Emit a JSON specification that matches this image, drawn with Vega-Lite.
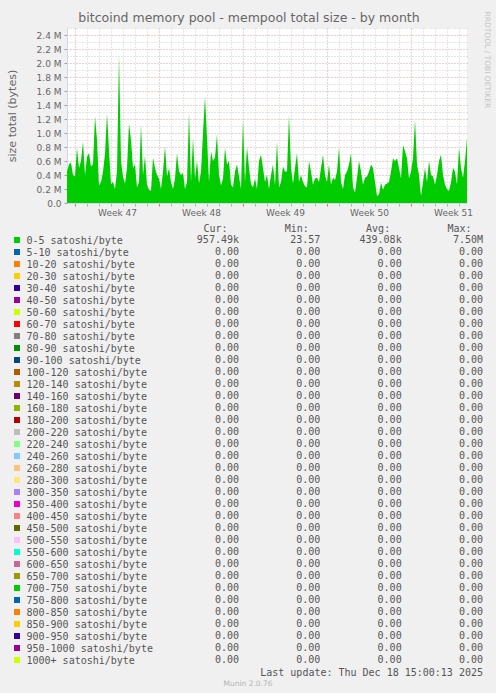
{
  "$schema": "https://vega.github.io/schema/vega-lite/v6.json",
  "background": "#f0f0f0",
  "padding": {"left": 5, "top": 11, "right": 5, "bottom": 5},
  "title": {"text": "RRDTOOL / TOBI OETIKER", "orient": "right", "anchor": "start", "font": "DejaVu Sans", "fontSize": 7.5, "fontWeight": "normal", "color": "#c4c4c4", "offset": 0},
  "datasets": {
    "mempool": [
      {"t":"2025-11-15T08:00Z","v":450000},{"t":"2025-11-15T12:00Z","v":550000},{"t":"2025-11-15T16:00Z","v":580000},{"t":"2025-11-15T20:00Z","v":400000},
      {"t":"2025-11-16T00:00Z","v":380000},{"t":"2025-11-16T04:00Z","v":790000},{"t":"2025-11-16T08:00Z","v":500000},{"t":"2025-11-16T12:00Z","v":600000},{"t":"2025-11-16T16:00Z","v":880000},{"t":"2025-11-16T20:00Z","v":400000},
      {"t":"2025-11-17T00:00Z","v":660000},{"t":"2025-11-17T04:00Z","v":710000},{"t":"2025-11-17T08:00Z","v":520000},{"t":"2025-11-17T12:00Z","v":550000},{"t":"2025-11-17T16:00Z","v":1240000},{"t":"2025-11-17T20:00Z","v":900000},
      {"t":"2025-11-18T00:00Z","v":250000},{"t":"2025-11-18T04:00Z","v":300000},{"t":"2025-11-18T08:00Z","v":450000},{"t":"2025-11-18T12:00Z","v":700000},{"t":"2025-11-18T16:00Z","v":1280000},{"t":"2025-11-18T20:00Z","v":750000},
      {"t":"2025-11-19T00:00Z","v":270000},{"t":"2025-11-19T04:00Z","v":300000},{"t":"2025-11-19T08:00Z","v":200000},{"t":"2025-11-19T12:00Z","v":450000},{"t":"2025-11-19T16:00Z","v":2120000},{"t":"2025-11-19T20:00Z","v":600000},
      {"t":"2025-11-20T00:00Z","v":380000},{"t":"2025-11-20T04:00Z","v":280000},{"t":"2025-11-20T08:00Z","v":500000},{"t":"2025-11-20T12:00Z","v":1140000},{"t":"2025-11-20T16:00Z","v":900000},{"t":"2025-11-20T20:00Z","v":500000},
      {"t":"2025-11-21T00:00Z","v":550000},{"t":"2025-11-21T04:00Z","v":220000},{"t":"2025-11-21T08:00Z","v":300000},{"t":"2025-11-21T12:00Z","v":1120000},{"t":"2025-11-21T16:00Z","v":400000},{"t":"2025-11-21T20:00Z","v":670000},
      {"t":"2025-11-22T00:00Z","v":260000},{"t":"2025-11-22T04:00Z","v":190000},{"t":"2025-11-22T08:00Z","v":170000},{"t":"2025-11-22T12:00Z","v":650000},{"t":"2025-11-22T16:00Z","v":500000},{"t":"2025-11-22T20:00Z","v":400000},
      {"t":"2025-11-23T00:00Z","v":350000},{"t":"2025-11-23T04:00Z","v":200000},{"t":"2025-11-23T08:00Z","v":450000},{"t":"2025-11-23T12:00Z","v":810000},{"t":"2025-11-23T16:00Z","v":380000},{"t":"2025-11-23T20:00Z","v":500000},
      {"t":"2025-11-24T00:00Z","v":300000},{"t":"2025-11-24T04:00Z","v":200000},{"t":"2025-11-24T08:00Z","v":350000},{"t":"2025-11-24T12:00Z","v":710000},{"t":"2025-11-24T16:00Z","v":450000},{"t":"2025-11-24T20:00Z","v":400000},
      {"t":"2025-11-25T00:00Z","v":430000},{"t":"2025-11-25T04:00Z","v":200000},{"t":"2025-11-25T08:00Z","v":300000},{"t":"2025-11-25T12:00Z","v":1300000},{"t":"2025-11-25T16:00Z","v":300000},{"t":"2025-11-25T20:00Z","v":930000},
      {"t":"2025-11-26T00:00Z","v":350000},{"t":"2025-11-26T04:00Z","v":600000},{"t":"2025-11-26T08:00Z","v":280000},{"t":"2025-11-26T12:00Z","v":450000},{"t":"2025-11-26T16:00Z","v":1000000},{"t":"2025-11-26T20:00Z","v":1520000},
      {"t":"2025-11-27T00:00Z","v":930000},{"t":"2025-11-27T04:00Z","v":300000},{"t":"2025-11-27T08:00Z","v":740000},{"t":"2025-11-27T12:00Z","v":600000},{"t":"2025-11-27T16:00Z","v":650000},{"t":"2025-11-27T20:00Z","v":980000},
      {"t":"2025-11-28T00:00Z","v":400000},{"t":"2025-11-28T04:00Z","v":250000},{"t":"2025-11-28T08:00Z","v":350000},{"t":"2025-11-28T12:00Z","v":790000},{"t":"2025-11-28T16:00Z","v":550000},{"t":"2025-11-28T20:00Z","v":600000},
      {"t":"2025-11-29T00:00Z","v":260000},{"t":"2025-11-29T04:00Z","v":220000},{"t":"2025-11-29T08:00Z","v":450000},{"t":"2025-11-29T12:00Z","v":550000},{"t":"2025-11-29T16:00Z","v":380000},{"t":"2025-11-29T20:00Z","v":200000},
      {"t":"2025-11-30T00:00Z","v":1190000},{"t":"2025-11-30T04:00Z","v":300000},{"t":"2025-11-30T08:00Z","v":800000},{"t":"2025-11-30T12:00Z","v":500000},{"t":"2025-11-30T16:00Z","v":270000},{"t":"2025-11-30T20:00Z","v":220000},
      {"t":"2025-12-01T00:00Z","v":350000},{"t":"2025-12-01T04:00Z","v":200000},{"t":"2025-12-01T08:00Z","v":600000},{"t":"2025-12-01T12:00Z","v":690000},{"t":"2025-12-01T16:00Z","v":500000},{"t":"2025-12-01T20:00Z","v":300000},
      {"t":"2025-12-02T00:00Z","v":400000},{"t":"2025-12-02T04:00Z","v":200000},{"t":"2025-12-02T08:00Z","v":400000},{"t":"2025-12-02T12:00Z","v":550000},{"t":"2025-12-02T16:00Z","v":250000},{"t":"2025-12-02T20:00Z","v":880000},
      {"t":"2025-12-03T00:00Z","v":220000},{"t":"2025-12-03T04:00Z","v":300000},{"t":"2025-12-03T08:00Z","v":520000},{"t":"2025-12-03T12:00Z","v":450000},{"t":"2025-12-03T16:00Z","v":450000},{"t":"2025-12-03T20:00Z","v":1260000},
      {"t":"2025-12-04T00:00Z","v":500000},{"t":"2025-12-04T04:00Z","v":280000},{"t":"2025-12-04T08:00Z","v":500000},{"t":"2025-12-04T12:00Z","v":710000},{"t":"2025-12-04T16:00Z","v":300000},{"t":"2025-12-04T20:00Z","v":400000},
      {"t":"2025-12-05T00:00Z","v":300000},{"t":"2025-12-05T04:00Z","v":240000},{"t":"2025-12-05T08:00Z","v":220000},{"t":"2025-12-05T12:00Z","v":600000},{"t":"2025-12-05T16:00Z","v":450000},{"t":"2025-12-05T20:00Z","v":260000},
      {"t":"2025-12-06T00:00Z","v":350000},{"t":"2025-12-06T04:00Z","v":360000},{"t":"2025-12-06T08:00Z","v":300000},{"t":"2025-12-06T12:00Z","v":500000},{"t":"2025-12-06T16:00Z","v":690000},{"t":"2025-12-06T20:00Z","v":400000},
      {"t":"2025-12-07T00:00Z","v":300000},{"t":"2025-12-07T04:00Z","v":550000},{"t":"2025-12-07T08:00Z","v":260000},{"t":"2025-12-07T12:00Z","v":360000},{"t":"2025-12-07T16:00Z","v":330000},{"t":"2025-12-07T20:00Z","v":450000},
      {"t":"2025-12-08T00:00Z","v":790000},{"t":"2025-12-08T04:00Z","v":300000},{"t":"2025-12-08T08:00Z","v":200000},{"t":"2025-12-08T12:00Z","v":400000},{"t":"2025-12-08T16:00Z","v":450000},{"t":"2025-12-08T20:00Z","v":550000},
      {"t":"2025-12-09T00:00Z","v":710000},{"t":"2025-12-09T04:00Z","v":220000},{"t":"2025-12-09T08:00Z","v":150000},{"t":"2025-12-09T12:00Z","v":360000},{"t":"2025-12-09T16:00Z","v":600000},{"t":"2025-12-09T20:00Z","v":450000},
      {"t":"2025-12-10T00:00Z","v":260000},{"t":"2025-12-10T04:00Z","v":360000},{"t":"2025-12-10T08:00Z","v":380000},{"t":"2025-12-10T12:00Z","v":450000},{"t":"2025-12-10T16:00Z","v":550000},{"t":"2025-12-10T20:00Z","v":500000},
      {"t":"2025-12-11T00:00Z","v":300000},{"t":"2025-12-11T04:00Z","v":100000},{"t":"2025-12-11T08:00Z","v":120000},{"t":"2025-12-11T12:00Z","v":290000},{"t":"2025-12-11T16:00Z","v":190000},{"t":"2025-12-11T20:00Z","v":260000},
      {"t":"2025-12-12T00:00Z","v":280000},{"t":"2025-12-12T04:00Z","v":300000},{"t":"2025-12-12T08:00Z","v":450000},{"t":"2025-12-12T12:00Z","v":640000},{"t":"2025-12-12T16:00Z","v":600000},{"t":"2025-12-12T20:00Z","v":640000},
      {"t":"2025-12-13T00:00Z","v":500000},{"t":"2025-12-13T04:00Z","v":350000},{"t":"2025-12-13T08:00Z","v":830000},{"t":"2025-12-13T12:00Z","v":740000},{"t":"2025-12-13T16:00Z","v":640000},{"t":"2025-12-13T20:00Z","v":350000},
      {"t":"2025-12-14T00:00Z","v":450000},{"t":"2025-12-14T04:00Z","v":640000},{"t":"2025-12-14T08:00Z","v":1190000},{"t":"2025-12-14T12:00Z","v":550000},{"t":"2025-12-14T16:00Z","v":400000},{"t":"2025-12-14T20:00Z","v":100000},
      {"t":"2025-12-15T00:00Z","v":300000},{"t":"2025-12-15T04:00Z","v":500000},{"t":"2025-12-15T08:00Z","v":300000},{"t":"2025-12-15T12:00Z","v":600000},{"t":"2025-12-15T16:00Z","v":400000},{"t":"2025-12-15T20:00Z","v":380000},
      {"t":"2025-12-16T00:00Z","v":260000},{"t":"2025-12-16T04:00Z","v":400000},{"t":"2025-12-16T08:00Z","v":600000},{"t":"2025-12-16T12:00Z","v":690000},{"t":"2025-12-16T16:00Z","v":400000},{"t":"2025-12-16T20:00Z","v":260000},
      {"t":"2025-12-17T00:00Z","v":200000},{"t":"2025-12-17T04:00Z","v":170000},{"t":"2025-12-17T08:00Z","v":300000},{"t":"2025-12-17T12:00Z","v":500000},{"t":"2025-12-17T16:00Z","v":450000},{"t":"2025-12-17T20:00Z","v":260000},
      {"t":"2025-12-18T00:00Z","v":790000},{"t":"2025-12-18T04:00Z","v":500000},{"t":"2025-12-18T08:00Z","v":360000},{"t":"2025-12-18T12:00Z","v":600000},{"t":"2025-12-18T16:00Z","v":930000}
    ],
    "legend": [
      {"name":"0-5 satoshi/byte","Cur":"957.49k","Min":"23.57\u00a0","Avg":"439.08k","Max":"7.50M"},
      {"name":"5-10 satoshi/byte","Cur":"0.00\u00a0","Min":"0.00\u00a0","Avg":"0.00\u00a0","Max":"0.00\u00a0"},
      {"name":"10-20 satoshi/byte","Cur":"0.00\u00a0","Min":"0.00\u00a0","Avg":"0.00\u00a0","Max":"0.00\u00a0"},
      {"name":"20-30 satoshi/byte","Cur":"0.00\u00a0","Min":"0.00\u00a0","Avg":"0.00\u00a0","Max":"0.00\u00a0"},
      {"name":"30-40 satoshi/byte","Cur":"0.00\u00a0","Min":"0.00\u00a0","Avg":"0.00\u00a0","Max":"0.00\u00a0"},
      {"name":"40-50 satoshi/byte","Cur":"0.00\u00a0","Min":"0.00\u00a0","Avg":"0.00\u00a0","Max":"0.00\u00a0"},
      {"name":"50-60 satoshi/byte","Cur":"0.00\u00a0","Min":"0.00\u00a0","Avg":"0.00\u00a0","Max":"0.00\u00a0"},
      {"name":"60-70 satoshi/byte","Cur":"0.00\u00a0","Min":"0.00\u00a0","Avg":"0.00\u00a0","Max":"0.00\u00a0"},
      {"name":"70-80 satoshi/byte","Cur":"0.00\u00a0","Min":"0.00\u00a0","Avg":"0.00\u00a0","Max":"0.00\u00a0"},
      {"name":"80-90 satoshi/byte","Cur":"0.00\u00a0","Min":"0.00\u00a0","Avg":"0.00\u00a0","Max":"0.00\u00a0"},
      {"name":"90-100 satoshi/byte","Cur":"0.00\u00a0","Min":"0.00\u00a0","Avg":"0.00\u00a0","Max":"0.00\u00a0"},
      {"name":"100-120 satoshi/byte","Cur":"0.00\u00a0","Min":"0.00\u00a0","Avg":"0.00\u00a0","Max":"0.00\u00a0"},
      {"name":"120-140 satoshi/byte","Cur":"0.00\u00a0","Min":"0.00\u00a0","Avg":"0.00\u00a0","Max":"0.00\u00a0"},
      {"name":"140-160 satoshi/byte","Cur":"0.00\u00a0","Min":"0.00\u00a0","Avg":"0.00\u00a0","Max":"0.00\u00a0"},
      {"name":"160-180 satoshi/byte","Cur":"0.00\u00a0","Min":"0.00\u00a0","Avg":"0.00\u00a0","Max":"0.00\u00a0"},
      {"name":"180-200 satoshi/byte","Cur":"0.00\u00a0","Min":"0.00\u00a0","Avg":"0.00\u00a0","Max":"0.00\u00a0"},
      {"name":"200-220 satoshi/byte","Cur":"0.00\u00a0","Min":"0.00\u00a0","Avg":"0.00\u00a0","Max":"0.00\u00a0"},
      {"name":"220-240 satoshi/byte","Cur":"0.00\u00a0","Min":"0.00\u00a0","Avg":"0.00\u00a0","Max":"0.00\u00a0"},
      {"name":"240-260 satoshi/byte","Cur":"0.00\u00a0","Min":"0.00\u00a0","Avg":"0.00\u00a0","Max":"0.00\u00a0"},
      {"name":"260-280 satoshi/byte","Cur":"0.00\u00a0","Min":"0.00\u00a0","Avg":"0.00\u00a0","Max":"0.00\u00a0"},
      {"name":"280-300 satoshi/byte","Cur":"0.00\u00a0","Min":"0.00\u00a0","Avg":"0.00\u00a0","Max":"0.00\u00a0"},
      {"name":"300-350 satoshi/byte","Cur":"0.00\u00a0","Min":"0.00\u00a0","Avg":"0.00\u00a0","Max":"0.00\u00a0"},
      {"name":"350-400 satoshi/byte","Cur":"0.00\u00a0","Min":"0.00\u00a0","Avg":"0.00\u00a0","Max":"0.00\u00a0"},
      {"name":"400-450 satoshi/byte","Cur":"0.00\u00a0","Min":"0.00\u00a0","Avg":"0.00\u00a0","Max":"0.00\u00a0"},
      {"name":"450-500 satoshi/byte","Cur":"0.00\u00a0","Min":"0.00\u00a0","Avg":"0.00\u00a0","Max":"0.00\u00a0"},
      {"name":"500-550 satoshi/byte","Cur":"0.00\u00a0","Min":"0.00\u00a0","Avg":"0.00\u00a0","Max":"0.00\u00a0"},
      {"name":"550-600 satoshi/byte","Cur":"0.00\u00a0","Min":"0.00\u00a0","Avg":"0.00\u00a0","Max":"0.00\u00a0"},
      {"name":"600-650 satoshi/byte","Cur":"0.00\u00a0","Min":"0.00\u00a0","Avg":"0.00\u00a0","Max":"0.00\u00a0"},
      {"name":"650-700 satoshi/byte","Cur":"0.00\u00a0","Min":"0.00\u00a0","Avg":"0.00\u00a0","Max":"0.00\u00a0"},
      {"name":"700-750 satoshi/byte","Cur":"0.00\u00a0","Min":"0.00\u00a0","Avg":"0.00\u00a0","Max":"0.00\u00a0"},
      {"name":"750-800 satoshi/byte","Cur":"0.00\u00a0","Min":"0.00\u00a0","Avg":"0.00\u00a0","Max":"0.00\u00a0"},
      {"name":"800-850 satoshi/byte","Cur":"0.00\u00a0","Min":"0.00\u00a0","Avg":"0.00\u00a0","Max":"0.00\u00a0"},
      {"name":"850-900 satoshi/byte","Cur":"0.00\u00a0","Min":"0.00\u00a0","Avg":"0.00\u00a0","Max":"0.00\u00a0"},
      {"name":"900-950 satoshi/byte","Cur":"0.00\u00a0","Min":"0.00\u00a0","Avg":"0.00\u00a0","Max":"0.00\u00a0"},
      {"name":"950-1000 satoshi/byte","Cur":"0.00\u00a0","Min":"0.00\u00a0","Avg":"0.00\u00a0","Max":"0.00\u00a0"},
      {"name":"1000+ satoshi/byte","Cur":"0.00\u00a0","Min":"0.00\u00a0","Avg":"0.00\u00a0","Max":"0.00\u00a0"}
    ]
  },
  "spacing": 6,
  "vconcat": [
    {
      "spacing": 0,
      "hconcat": [
        {
          "width": 1,
          "height": 175,
          "view": {"stroke": null},
          "data": {"values": []},
          "mark": {"type": "point", "opacity": 0}
        },
        {
          "width": 400,
          "height": 175,
          "view": {"fill": "#ffffff", "stroke": null},
          "title": {"text": "bitcoind memory pool - mempool total size - by month", "frame": "group", "anchor": "middle", "dx": -18, "offset": 0, "font": "DejaVu Sans", "fontSize": 12.5, "fontWeight": "normal", "color": "#666666"},
          "data": {"name": "mempool"},
          "mark": {"type": "area", "color": "#00cc00", "opacity": 1, "clip": true},
          "encoding": {
            "x": {
              "field": "t",
              "type": "temporal",
              "scale": {"type": "utc", "nice": false, "domain": [{"year": 2025, "month": 11, "date": 15, "hours": 8, "utc": true}, {"year": 2025, "month": 12, "date": 18, "hours": 16, "utc": true}]},
              "axis": {
                "title": null,
                "values": [1763251200000, 1763337600000, 1763424000000, 1763510400000, 1763553600000, 1763596800000, 1763683200000, 1763769600000, 1763856000000, 1763942400000, 1764028800000, 1764115200000, 1764158400000, 1764201600000, 1764288000000, 1764374400000, 1764460800000, 1764547200000, 1764633600000, 1764720000000, 1764763200000, 1764806400000, 1764892800000, 1764979200000, 1765065600000, 1765152000000, 1765238400000, 1765324800000, 1765368000000, 1765411200000, 1765497600000, 1765584000000, 1765670400000, 1765756800000, 1765843200000, 1765929600000, 1765972800000, 1766016000000],
                "labelExpr": "utchours(datum.value) == 12 ? 'Week ' + utcFormat(datum.value, '%V') : ''",
                "labelOverlap": false,
                "labelFlush": false,
                "labelFontSize": 9,
                "labelPadding": 2,
                "tickSize": 3,
                "tickColor": {"condition": {"test": "utcday(datum.value) == 0 && utchours(datum.value) == 0", "value": "#e07070"}, "value": "#b0b0b0"},
                "tickOpacity": {"condition": {"test": "utchours(datum.value) == 12", "value": 0}, "value": 1},
                "gridColor": {"condition": {"test": "utcday(datum.value) == 0 && utchours(datum.value) == 0", "value": "rgba(222,79,79,0.55)"}, "value": "rgba(143,143,143,0.45)"},
                "gridOpacity": {"condition": {"test": "utchours(datum.value) == 12", "value": 0}, "value": 1},
                "gridDash": [1, 2],
                "domainColor": "#cfd6f8"
              }
            },
            "y": {
              "field": "v",
              "type": "quantitative",
              "scale": {"domain": [0, 2500000], "nice": false},
              "axis": {
                "title": "size total (bytes)",
                "titleFontSize": 11,
                "titleFontWeight": "normal",
                "titlePadding": 19,
                "values": [0, 100000, 200000, 300000, 400000, 500000, 600000, 700000, 800000, 900000, 1000000, 1100000, 1200000, 1300000, 1400000, 1500000, 1600000, 1700000, 1800000, 1900000, 2000000, 2100000, 2200000, 2300000, 2400000, 2500000],
                "labelExpr": "datum.value % 200000 == 0 ? (datum.value == 0 ? '0.0' : format(datum.value / 1000000, '.1f') + ' M') : ''",
                "labelOverlap": false,
                "labelFlush": false,
                "labelFontSize": 9,
                "labelPadding": 3,
                "tickSize": 3,
                "tickColor": "#a0a0a0",
                "tickOpacity": {"condition": {"test": "datum.value % 200000 != 0", "value": 0}, "value": 1},
                "gridColor": {"condition": {"test": "datum.value % 200000 == 0", "value": "rgba(222,79,79,0.55)"}, "value": "rgba(143,143,143,0.45)"},
                "gridDash": [1, 2],
                "domainColor": "#cfd6f8"
              }
            }
          }
        }
      ]
    },
    {
      "bounds": "flush",
      "spacing": 210,
      "title": {"text": "Munin 2.0.76", "orient": "bottom", "anchor": "middle", "dx": 4, "offset": 2, "font": "DejaVu Sans", "fontSize": 7.5, "fontWeight": "normal", "color": "#b4b4b4"},
      "hconcat": [
        {
          "width": 24,
          "height": 432,
          "view": {"stroke": null},
          "data": {"name": "legend"},
          "mark": {"type": "square", "size": 36, "opacity": 1},
          "encoding": {
            "y": {
              "field": "name",
              "type": "nominal",
              "sort": null,
              "axis": {"orient": "right", "title": null, "domain": false, "ticks": false, "labelPadding": -3, "labelAlign": "left", "labelFont": "DejaVu Sans Mono", "labelFontSize": 10, "labelColor": "#555555", "labelLimit": 300}
            },
            "color": {
              "field": "name",
              "type": "nominal",
              "legend": null,
              "scale": {
                "domain": ["0-5 satoshi/byte", "5-10 satoshi/byte", "10-20 satoshi/byte", "20-30 satoshi/byte", "30-40 satoshi/byte", "40-50 satoshi/byte", "50-60 satoshi/byte", "60-70 satoshi/byte", "70-80 satoshi/byte", "80-90 satoshi/byte", "90-100 satoshi/byte", "100-120 satoshi/byte", "120-140 satoshi/byte", "140-160 satoshi/byte", "160-180 satoshi/byte", "180-200 satoshi/byte", "200-220 satoshi/byte", "220-240 satoshi/byte", "240-260 satoshi/byte", "260-280 satoshi/byte", "280-300 satoshi/byte", "300-350 satoshi/byte", "350-400 satoshi/byte", "400-450 satoshi/byte", "450-500 satoshi/byte", "500-550 satoshi/byte", "550-600 satoshi/byte", "600-650 satoshi/byte", "650-700 satoshi/byte", "700-750 satoshi/byte", "750-800 satoshi/byte", "800-850 satoshi/byte", "850-900 satoshi/byte", "900-950 satoshi/byte", "950-1000 satoshi/byte", "1000+ satoshi/byte"],
                "range": ["#00cc00", "#0066b3", "#ff8000", "#ffcc00", "#330099", "#990099", "#ccff00", "#ff0000", "#808080", "#008f00", "#00487d", "#b35a00", "#b38f00", "#6b006b", "#8fb300", "#b30000", "#bebebe", "#80ff80", "#80c9ff", "#ffc080", "#ffe680", "#aa80ff", "#ee00cc", "#ff8080", "#666600", "#ffbfff", "#00ffcc", "#cc6699", "#999900", "#00cc00", "#0066b3", "#ff8000", "#ffcc00", "#330099", "#990099", "#ccff00"]
              }
            }
          }
        },
        {
          "width": 244,
          "height": 432,
          "view": {"stroke": null},
          "title": {"text": "Last update: Thu Dec 18 15:00:13 2025", "orient": "bottom", "anchor": "end", "frame": "group", "offset": 2, "font": "DejaVu Sans Mono", "fontSize": 10, "fontWeight": "normal", "color": "#555555"},
          "data": {"name": "legend"},
          "transform": [{"fold": ["Cur", "Min", "Avg", "Max"], "as": ["stat", "val"]}],
          "mark": {"type": "text", "align": "right", "baseline": "middle", "font": "DejaVu Sans Mono", "fontSize": 10, "color": "#555555"},
          "encoding": {
            "x": {
              "field": "stat",
              "type": "nominal",
              "scale": {"domain": ["Cur", "Min", "Avg", "Max"], "padding": 0},
              "axis": {"orient": "top", "title": null, "domain": false, "ticks": false, "labelAngle": 0, "labelAlign": "right", "labelOffset": -12, "labelPadding": 1, "labelExpr": "datum.value + ':'", "labelFont": "DejaVu Sans Mono", "labelFontSize": 10, "labelColor": "#555555"}
            },
            "y": {"field": "name", "type": "nominal", "sort": null, "axis": null},
            "text": {"field": "val"}
          }
        }
      ]
    }
  ],
  "config": {
    "font": "DejaVu Sans",
    "view": {"stroke": null},
    "axis": {"labelColor": "#666666", "titleColor": "#666666", "labelFont": "DejaVu Sans", "titleFont": "DejaVu Sans"}
  }
}
